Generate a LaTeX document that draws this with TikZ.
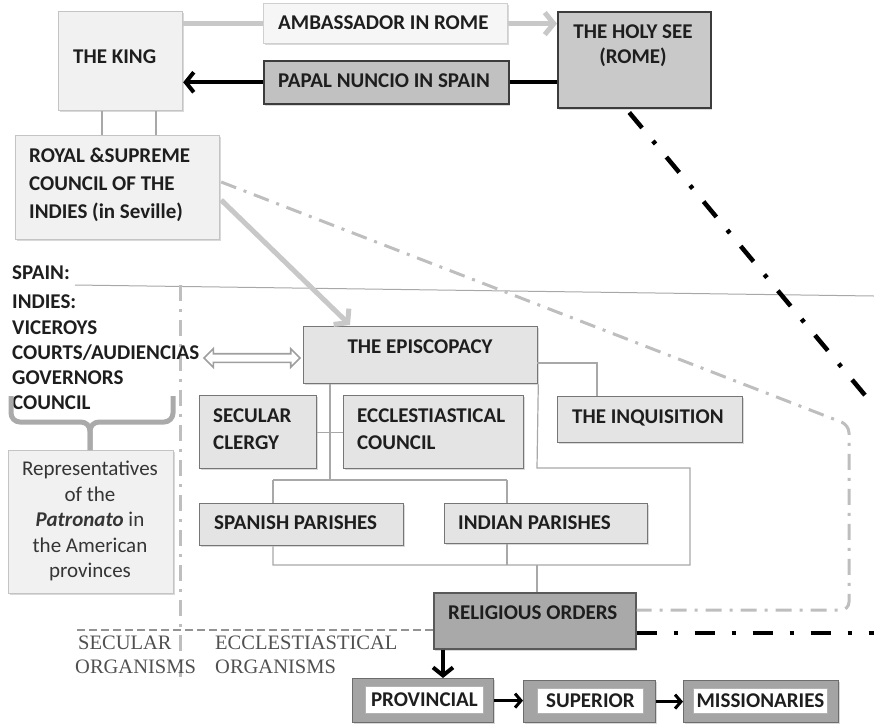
\documentclass[tikz,border=0pt]{standalone}
\usepackage{fontspec}
\setmainfont{Carlito}
\newfontfamily\serifx{Liberation Serif}
\usetikzlibrary{arrows.meta,shapes.arrows,shadows,calc}
\definecolor{lightfill}{HTML}{F1F1F1}
\definecolor{lightline}{HTML}{C4C4C4}
\definecolor{ambfill}{HTML}{F6F6F6}
\definecolor{ambline}{HTML}{CFCFCF}
\definecolor{holyfill}{HTML}{C9C9C9}
\definecolor{darkline}{HTML}{3C3C3C}
\definecolor{nunfill}{HTML}{C1C1C1}
\definecolor{midfill}{HTML}{E4E4E4}
\definecolor{midline}{HTML}{767676}
\definecolor{relfill}{HTML}{A9A9A9}
\definecolor{bandfill}{HTML}{A4A4A4}
\definecolor{connc}{HTML}{A8A8A8}
\definecolor{arrowgray}{HTML}{C8C8C8}
\definecolor{dashgray}{HTML}{BEBEBE}
\definecolor{txtc}{HTML}{1E1E1E}
\definecolor{serifc}{HTML}{505050}
\newcommand\mkbox[6]{\node[#6, anchor=north west, minimum width={#4-#2}, minimum height={#5-#3}, inner sep=0pt] (#1) at (#2,#3) {};}
\begin{document}
\begin{tikzpicture}[x=1pt, y=-1pt,
  shade/.style={drop shadow={shadow xshift=1.2pt, shadow yshift=-1.8pt, opacity=0.3}},
  lightbox/.style={draw=lightline, fill=lightfill, line width=1.2pt, shade},
  ambbox/.style={draw=ambline, fill=ambfill, line width=1.2pt, shade},
  holybox/.style={draw=darkline, fill=holyfill, line width=1.5pt, shade},
  nunbox/.style={draw=darkline, fill=nunfill, line width=1.5pt, shade},
  midbox/.style={draw=midline, fill=midfill, line width=1.3pt, shade},
  relbox/.style={draw=darkline!85, fill=relfill, line width=1.5pt, shade},
  bandbox/.style={draw=darkline!75, fill=bandfill, line width=1.2pt, shade},
  innerbox/.style={draw=gray!60, fill=white, line width=0.8pt},
  lbl/.style={font=\bfseries\fontsize{21}{25}\selectfont, text=txtc, inner sep=0pt},
  reptxt/.style={font=\fontsize{21}{25.5}\selectfont, text=txtc!90, inner sep=0pt, align=center},
  sertxt/.style={font=\serifx\fontsize{20.5}{24}\selectfont, text=serifc, inner sep=0pt, align=left},
  conn/.style={draw=connc, line width=1.2pt},
  grayarrow/.style={draw=arrowgray, line width=5pt, -{Straight Barb[length=9pt,width=22pt]}},
  blackarrow/.style={draw=black, line width=4pt, -{Straight Barb[length=8pt,width=20pt]}},
  smallarrow/.style={draw=black, line width=3pt, -{Straight Barb[length=6pt,width=14pt]}},
  graydashdot/.style={draw=dashgray, line width=3pt, dash pattern=on 16pt off 8pt on 3pt off 8pt},
  blackdashdot/.style={draw=black, line width=4.5pt, dash pattern=on 20pt off 17pt on 4pt off 17pt},
  brace/.style={draw=arrowgray!85!black, line width=5pt, rounded corners=9pt},
  sepline/.style={draw=connc, line width=1pt},
  dashsep/.style={draw=gray!85, line width=2pt, dash pattern=on 8pt off 4pt}
]
\useasboundingbox (0,0) rectangle (874,724);

% ---------- lines behind boxes ----------
\coordinate (sl1) at (75,285);
\coordinate (sl2) at (874,296);
\draw[sepline] (sl1) -- (sl2);

\coordinate (vd1) at (180,285);
\coordinate (vd2) at (180,677);
\draw[graydashdot] (vd1) -- (vd2);

% ---------- boxes ----------
\mkbox{king}{58}{11}{182}{110}{lightbox}
\mkbox{amb}{263}{3}{507}{43}{ambbox}
\mkbox{holy}{557}{11}{710}{107}{holybox}
\mkbox{nuncio}{263}{60}{508}{103}{nunbox}
\mkbox{council}{15}{135}{219}{239}{lightbox}
\mkbox{rep}{8}{450}{173}{593}{lightbox}
\mkbox{epi}{303}{326}{537}{383}{midbox}
\mkbox{clergy}{199}{395}{316}{468}{midbox}
\mkbox{eccl}{343}{395}{523}{468}{midbox}
\mkbox{inq}{557}{396}{742}{442}{midbox}
\mkbox{span}{199}{503}{403}{545}{midbox}
\mkbox{ind}{444}{503}{647}{543}{midbox}
\mkbox{rel}{433}{592}{635}{648}{relbox}
\mkbox{prov}{352}{678}{493}{722}{bandbox}
\mkbox{sup}{523}{680}{655}{722}{bandbox}
\mkbox{miss}{683}{680}{838}{722}{bandbox}
\mkbox{provin}{365}{686}{483}{713}{innerbox}
\mkbox{supin}{537}{688}{643}{713}{innerbox}
\mkbox{missin}{693}{688}{827}{713}{innerbox}

% ---------- texts ----------
\node[lbl, anchor=west] (tking) at (73,57) {THE KING};
\node[lbl, anchor=west] (tamb) at (278,23) {AMBASSADOR IN ROME};
\node[lbl, align=center] (tholy) at (633,46) {THE HOLY SEE\\(ROME)};
\node[lbl, anchor=west] (tnun) at (278,81) {PAPAL NUNCIO IN SPAIN};
\node[lbl, anchor=west, align=left, font=\bfseries\fontsize{21}{28}\selectfont] (tcouncil) at (29,185) {ROYAL \&SUPREME\\COUNCIL OF THE\\INDIES (in Seville)};
\node[lbl, anchor=west] (tspain) at (12,273) {SPAIN:};
\node[lbl, anchor=west, align=left, font=\bfseries\fontsize{21}{25.25}\selectfont] (tindies) at (12,352.5) {INDIES:\\VICEROYS\\COURTS/AUDIENCIAS\\GOVERNORS\\COUNCIL};
\node[reptxt] (trep) at (90,521) {Representatives\\of the\\\textbf{\textit{Patronato}} in\\the American\\provinces};
\node[lbl] (tepi) at (420,347) {THE EPISCOPACY};
\node[lbl, anchor=west, align=left, font=\bfseries\fontsize{21}{27}\selectfont] (tclergy) at (213,429) {SECULAR\\CLERGY};
\node[lbl, anchor=west, align=left, font=\bfseries\fontsize{21}{27}\selectfont] (teccl) at (357,429) {ECCLESTIASTICAL\\COUNCIL};
\node[lbl, anchor=west] (tinq) at (572,418) {THE INQUISITION};
\node[lbl, anchor=west] (tspan) at (214,523) {SPANISH PARISHES};
\node[lbl, anchor=west] (tind) at (458,523) {INDIAN PARISHES};
\node[lbl, anchor=west] (trel) at (448,613) {RELIGIOUS ORDERS};
\node[lbl] (tprov) at (provin) {PROVINCIAL};
\node[lbl] (tsup) at (supin) {SUPERIOR};
\node[lbl] (tmiss) at (missin) {MISSIONARIES};
\node[sertxt, anchor=west] (tsec) at (75,655) {\hspace*{3pt}SECULAR\\ORGANISMS};
\node[sertxt, anchor=west] (tecc) at (215,655) {ECCLESTIASTICAL\\ORGANISMS};

% ---------- top connectors ----------
\draw[draw=arrowgray, line width=5pt] (king.east |- amb.west) -- (amb.west);
\draw[grayarrow] (amb.east) -- (holy.west |- amb.east);
\draw[draw=black, line width=4pt] (holy.west |- nuncio.east) -- (nuncio.east);
\draw[blackarrow] (nuncio.west) -- (king.east |- nuncio.west);
\coordinate (k1) at ($(king.south west)+(44,0)$);
\coordinate (k2) at ($(king.south west)+(98,0)$);
\draw[conn] (k1) -- (k1 |- council.north);
\draw[conn] (k2) -- (k2 |- council.north);

% council -> episcopacy
\coordinate (ca) at ($(council.north east)+(1,65)$);
\coordinate (ea) at ($(epi.north west)+(47,-1)$);
\draw[grayarrow] (ca) -- (ea);

% gray dash-dot boundary
\coordinate (g0) at ($(council.north east)+(1,47)$);
\coordinate (g1) at (849,425);
\coordinate (g2) at (849,610);
\draw[graydashdot, rounded corners=8pt] (g0) -- (g1) -- (g2) -- (rel.east |- g2);

% black dash-dot lines
\coordinate (h0) at ($(holy.south)+(-5,4)$);
\coordinate (h1) at (874,406);
\draw[blackdashdot] (h0) -- (h1);
\coordinate (r1) at (874,633);
\draw[blackdashdot] (rel.east |- r1) -- (r1);

% double arrow
\node[double arrow, draw=gray!75, fill=white, line width=1.7pt, minimum height=96pt, inner sep=3.5pt, double arrow head extend=5pt] (dbl) at (252,358) {};

% brace
\draw[brace] (11,396) -- (11,422) -- (90,422) -- (rep.north -| 90,0);
\draw[brace] (90,450) -- (90,422) -- (173,422) -- (173,396);

% dashed separator
\coordinate (ds) at (77,630);
\draw[dashsep] (ds) -- (rel.west |- ds);

% ---------- episcopacy tree ----------
\coordinate (e1) at ($(epi.south west)+(27,0)$);
\coordinate (e2) at (330,480);
\draw[conn] (e1) -- (e2);
\draw[conn] (clergy.east) -- (eccl.west);
\coordinate (p1) at (273,480);
\coordinate (p2) at (507,480);
\draw[conn] (p1) -- (p2);
\draw[conn] (p1) -- (span.north -| p1);
\draw[conn] (p2) -- (ind.north -| p2);
\coordinate (q1) at (273,565);
\coordinate (q2) at (690,565);
\coordinate (q3) at (690,468);
\coordinate (q4) at (537,468);
\draw[conn] (span.south -| q1) -- (q1) -- (q2) -- (q3) -- (q4) -- (epi.south east);
\draw[conn] (ind.south -| p2) -- (p2 |- q1);
\coordinate (q5) at (537,565);
\draw[conn] (q5) -- (rel.north -| q5);
\coordinate (i1) at (537,363);
\coordinate (i2) at (597,363);
\draw[conn] (i1) -- (i2) -- (inq.north -| i2);

% ---------- bottom arrows ----------
\coordinate (ro) at ($(rel.south west)+(10,0)$);
\draw[blackarrow] (ro) -- (ro |- prov.north);
\draw[smallarrow] (prov.east) -- (sup.west |- prov.east);
\draw[smallarrow] (sup.east) -- (miss.west |- sup.east);
\end{tikzpicture}
\end{document}
